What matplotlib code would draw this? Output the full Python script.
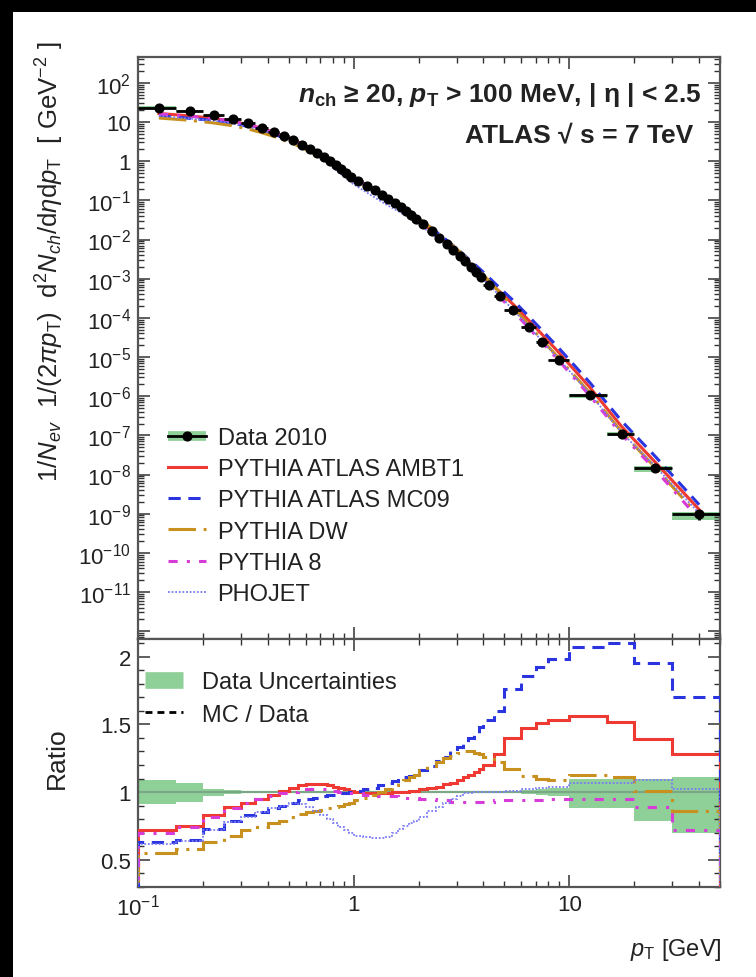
"""ATLAS 7 TeV: charged-particle pT spectrum (nch >= 20, pT > 100 MeV) with MC/Data ratio."""

import matplotlib

matplotlib.use("Agg")
import matplotlib.pyplot as plt
import numpy as np
from matplotlib.lines import Line2D
from matplotlib.patches import Rectangle
from matplotlib.ticker import FixedLocator, FuncFormatter, LogLocator, MultipleLocator, NullFormatter

plt.rcParams["font.family"] = ["Liberation Sans", "DejaVu Sans"]
plt.rcParams["mathtext.fontset"] = "custom"
plt.rcParams["mathtext.rm"] = "Liberation Sans"
plt.rcParams["mathtext.it"] = "Liberation Sans:italic"
plt.rcParams["mathtext.bf"] = "Liberation Sans:bold"
plt.rcParams["mathtext.bfit"] = "Liberation Sans:bold:italic"

# --------------------------------------------------------------------------
# data
# --------------------------------------------------------------------------
pt_edges = [0.10, 0.15, 0.20, 0.25, 0.30, 0.35, 0.40, 0.45, 0.50, 0.55,
            0.60, 0.65, 0.70, 0.75, 0.80, 0.85, 0.90, 0.95, 1.00, 1.10,
            1.20, 1.30, 1.40, 1.50, 1.60, 1.70, 1.80, 1.90, 2.00, 2.20,
            2.40, 2.60, 2.80, 3.00, 3.20, 3.40, 3.60, 3.80, 4.00, 4.50,
            5.00, 6.00, 7.00, 8.00, 10.0, 15.0, 20.0, 30.0, 50.0]

data_2010 = [23.0, 19.0, 15.0, 11.8, 9.2, 7.2, 5.6, 4.35, 3.4, 2.65,
             2.07, 1.62, 1.27, 1.0, 0.79, 0.63, 0.50, 0.40, 0.318, 0.238,
             0.180, 0.139, 0.108, 0.0846, 0.0666, 0.0529, 0.0421, 0.0338, 0.0245, 0.0163,
             0.0110, 0.00762, 0.00533, 0.00381, 0.00275, 0.00201, 0.00149, 0.00112, 6.9e-4, 3.66e-4,
             1.57e-4, 5.8e-5, 2.46e-5, 8.2e-6, 1.05e-6, 1.1e-7, 1.5e-8, 1.0e-9]

# data uncertainty band (relative to data)
unc_lo = [0.91, 0.93, 0.975, 0.985, 0.99, 0.99, 0.99, 0.99, 0.99, 0.99,
          0.99, 0.99, 0.99, 0.99, 0.99, 0.99, 0.99, 0.99, 0.99, 0.99,
          0.99, 0.99, 0.99, 0.99, 0.99, 0.99, 0.99, 0.99, 0.99, 0.99,
          0.99, 0.99, 0.99, 0.99, 0.99, 0.99, 0.99, 0.99, 0.99, 0.99,
          0.99, 0.985, 0.98, 0.97, 0.88, 0.88, 0.79, 0.70]
unc_hi = [1.09, 1.07, 1.025, 1.015, 1.01, 1.01, 1.01, 1.01, 1.01, 1.01,
          1.01, 1.01, 1.01, 1.01, 1.01, 1.01, 1.01, 1.01, 1.01, 1.01,
          1.01, 1.01, 1.01, 1.01, 1.01, 1.01, 1.01, 1.01, 1.01, 1.01,
          1.01, 1.01, 1.01, 1.01, 1.01, 1.01, 1.01, 1.01, 1.01, 1.01,
          1.01, 1.015, 1.02, 1.03, 1.10, 1.10, 1.10, 1.11]

# MC / Data ratios per bin
ratio_ambt1 = [0.72, 0.75, 0.83, 0.89, 0.92, 0.95, 0.98, 1.01, 1.03, 1.05,
               1.06, 1.06, 1.06, 1.05, 1.04, 1.03, 1.02, 1.01, 1.00, 0.99,
               0.99, 0.99, 0.99, 1.00, 1.00, 1.00, 1.01, 1.01, 1.02, 1.03,
               1.04, 1.06, 1.07, 1.09, 1.11, 1.13, 1.15, 1.17, 1.20, 1.28,
               1.40, 1.47, 1.51, 1.53, 1.56, 1.52, 1.39, 1.28]
ratio_mc09 = [0.63, 0.65, 0.73, 0.79, 0.83, 0.85, 0.88, 0.90, 0.92, 0.94,
              0.95, 0.96, 0.97, 0.98, 0.98, 0.99, 0.99, 1.00, 1.01, 1.02,
              1.03, 1.05, 1.07, 1.08, 1.09, 1.11, 1.12, 1.14, 1.16, 1.19,
              1.23, 1.26, 1.30, 1.33, 1.36, 1.40, 1.44, 1.48, 1.53, 1.60,
              1.76, 1.86, 1.92, 1.98, 2.07, 2.10, 1.95, 1.70]
ratio_dw = [0.55, 0.58, 0.63, 0.68, 0.72, 0.74, 0.77, 0.79, 0.82, 0.84,
            0.85, 0.86, 0.87, 0.88, 0.89, 0.90, 0.91, 0.92, 0.94, 0.96,
            0.98, 1.00, 1.02, 1.05, 1.07, 1.09, 1.11, 1.13, 1.16, 1.19,
            1.22, 1.25, 1.27, 1.29, 1.30, 1.30, 1.29, 1.28, 1.26, 1.22,
            1.17, 1.12, 1.10, 1.09, 1.13, 1.11, 1.01, 0.86]
ratio_py8 = [0.70, 0.74, 0.82, 0.88, 0.92, 0.95, 0.97, 0.99, 1.00, 1.01,
             1.02, 1.02, 1.02, 1.01, 1.01, 1.00, 1.00, 0.99, 0.99, 0.98,
             0.98, 0.97, 0.97, 0.97, 0.96, 0.96, 0.96, 0.96, 0.95, 0.95,
             0.94, 0.94, 0.93, 0.93, 0.93, 0.93, 0.93, 0.93, 0.93, 0.94,
             0.94, 0.94, 0.94, 0.95, 0.95, 0.95, 0.89, 0.72]
ratio_phojet = [0.62, 0.64, 0.72, 0.78, 0.82, 0.85, 0.88, 0.90, 0.92, 0.91,
                0.89, 0.86, 0.83, 0.80, 0.77, 0.74, 0.72, 0.70, 0.68, 0.67,
                0.66, 0.66, 0.67, 0.70, 0.73, 0.75, 0.77, 0.79, 0.82, 0.86,
                0.89, 0.92, 0.95, 0.97, 0.99, 0.99, 1.00, 1.00, 1.00, 1.00,
                1.01, 1.02, 1.03, 1.04, 1.07, 1.07, 1.09, 1.02]

mc_labels = ["PYTHIA ATLAS AMBT1", "PYTHIA ATLAS MC09", "PYTHIA DW", "PYTHIA 8", "PHOJET"]

# --------------------------------------------------------------------------
# styles
# --------------------------------------------------------------------------
GREEN = "#8fcf98"
mc_styles = [
    dict(color="#ee3a32", lw=2.2, ls="-"),
    dict(color="#2a35e0", lw=2.2, ls=(0, (4, 2.5))),
    dict(color="#c8901e", lw=2.2, ls=(0, (9, 2.5, 1, 2.5))),
    dict(color="#d83cd8", lw=2.2, ls=(0, (3, 3, 1, 3))),
    dict(color="#7a7af5", lw=1.3, ls=(0, (1, 1))),
]
mc_ratios = [ratio_ambt1, ratio_mc09, ratio_dw, ratio_py8, ratio_phojet]

W, H = 756, 978


def fx(px):
    return px / W


def fy(py):
    return 1 - py / H


fig = plt.figure(figsize=(7.56, 9.78), dpi=100, facecolor="black")
fig.patches.append(Rectangle((fx(13), 0), 1, fy(13), transform=fig.transFigure,
                             facecolor="white", edgecolor="none", zorder=-10))

L, R, T, MID, B = 138, 720, 58, 640, 888
ax1 = fig.add_axes([fx(L), fy(MID), fx(R) - fx(L), fy(T) - fy(MID)])
ax2 = fig.add_axes([fx(L), fy(B), fx(R) - fx(L), fy(MID) - fy(B)], sharex=ax1)

edges = np.array(pt_edges)
centers = 0.5 * (edges[:-1] + edges[1:])
halfw = 0.5 * (edges[1:] - edges[:-1])
data = np.array(data_2010)
lo = np.array(unc_lo)
hi = np.array(unc_hi)

# ---- upper panel: spectrum
ax1.stairs(data * hi, edges, baseline=data * lo, fill=True, color=GREEN, lw=0, zorder=1)
for ratio, st in zip(mc_ratios, mc_styles):
    ax1.plot(centers, data * np.array(ratio), zorder=3, **st)
ax1.errorbar(centers, data, xerr=halfw, yerr=[data * (1 - lo), data * (hi - 1)],
             fmt="o", color="black", ms=6.3, elinewidth=2, capsize=0, zorder=5)

ax1.set_xscale("log")
ax1.set_yscale("log")
ax1.set_xlim(0.1, 50)
ax1.set_ylim(10 ** -12.2, 10 ** 2.66)


def ylog_fmt(v, pos):
    k = int(round(np.log10(v)))
    if k == -12:
        return ""
    if k == 0:
        return "1"
    if k == 1:
        return "10"
    return r"$10^{%d}$" % k


ax1.yaxis.set_major_locator(FixedLocator([10.0 ** k for k in range(-12, 3)]))
ax1.yaxis.set_major_formatter(FuncFormatter(ylog_fmt))
ax1.yaxis.set_minor_locator(LogLocator(base=10, subs=np.arange(2, 10), numticks=40))
ax1.yaxis.set_minor_formatter(NullFormatter())

ax1.text(0.969, 0.936, r"$\mathbfit{n}_{\mathbf{ch}}$ ≥ 20, $\mathbfit{p}_{\mathbf{T}}$ > 100 MeV, | η | < 2.5",
         transform=ax1.transAxes, ha="right", va="center", fontsize=19, fontweight="bold", color="#222")
ax1.text(0.954, 0.867, "ATLAS √ s = 7 TeV", transform=ax1.transAxes, ha="right", va="center",
         fontsize=19, fontweight="bold", color="#222")

h_data = (Line2D([], [], color=GREEN, lw=7, solid_capstyle="butt"),
          Line2D([], [], color="black", lw=2, marker="o", ms=6.3))
h_mc = [Line2D([], [], **st) for st in mc_styles]
fig.legend([h_data] + h_mc, ["Data 2010"] + mc_labels, loc="upper left",
           bbox_to_anchor=(fx(168), fy(428)), frameon=False, fontsize=17,
           handlelength=1.6, handletextpad=0.5, labelspacing=0.39,
           borderpad=0, borderaxespad=0, labelcolor="#222")

# ---- lower panel: ratio
ax2.stairs(hi, edges, baseline=lo, fill=True, color=GREEN, lw=0, zorder=1)
ax2.axhline(1.0, color="#7aa886", lw=1.6, zorder=2)
for ratio, st in zip(mc_ratios, mc_styles):
    ax2.stairs(ratio, edges, color=st["color"], lw=st["lw"], linestyle=st["ls"], zorder=3)
ax2.set_ylim(0.3, 2.13)
ax2.yaxis.set_major_locator(FixedLocator([0.5, 1.0, 1.5, 2.0]))
ax2.yaxis.set_major_formatter(FuncFormatter(lambda v, p: "%g" % v))
ax2.yaxis.set_minor_locator(MultipleLocator(0.1))

fig.legend([Line2D([], [], color=GREEN, lw=12, solid_capstyle="butt"),
            Line2D([], [], color="black", lw=2, ls=(0, (2.5, 1.8)))],
           ["Data Uncertainties", "MC / Data"], loc="upper left",
           bbox_to_anchor=(fx(145), fy(672)), frameon=False, fontsize=17,
           handlelength=1.6, handletextpad=0.8, labelspacing=0.45,
           borderpad=0, borderaxespad=0, labelcolor="#222")

# ---- shared x axis
ax2.xaxis.set_major_locator(FixedLocator([0.1, 1, 10]))
ax2.xaxis.set_major_formatter(FuncFormatter(
    lambda v, p: {0.1: r"$10^{-1}$", 1.0: "1", 10.0: "10"}.get(round(v, 3), "")))
ax2.xaxis.set_minor_locator(LogLocator(base=10, subs=np.arange(2, 10), numticks=20))
ax2.xaxis.set_minor_formatter(NullFormatter())
ax1.tick_params(axis="x", which="both", labelbottom=False)

for ax in (ax1, ax2):
    ax.tick_params(which="both", direction="in", top=True, right=True, color="#333",
                   labelsize=16, labelcolor="#222", pad=5)
    ax.tick_params(which="major", length=8.6, width=1.1)
    ax.tick_params(which="minor", length=4.3, width=1.0)
    for sp in ax.spines.values():
        sp.set_color("#555")
        sp.set_linewidth(1.6)

# axis titles
fig.text(fx(50), fy(262),
         r"1/$N_{ev}$  1/(2$\pi$$p_{\mathrm{T}}$)  d$^{2}$$N_{ch}$/d$\eta$d$p_{\mathrm{T}}$  [ GeV$^{-2}$ ]",
         rotation=90, ha="center", va="center", fontsize=18.5, color="#222")
fig.text(fx(57), fy(758), "Ratio", rotation=90, ha="center", va="center", fontsize=19, color="#222")
fig.text(fx(722), fy(950), r"$p_{\mathrm{T}}$ [GeV]", ha="right", va="center", fontsize=17, color="#222")

fig.savefig("out.png", dpi=100, facecolor=fig.get_facecolor())
